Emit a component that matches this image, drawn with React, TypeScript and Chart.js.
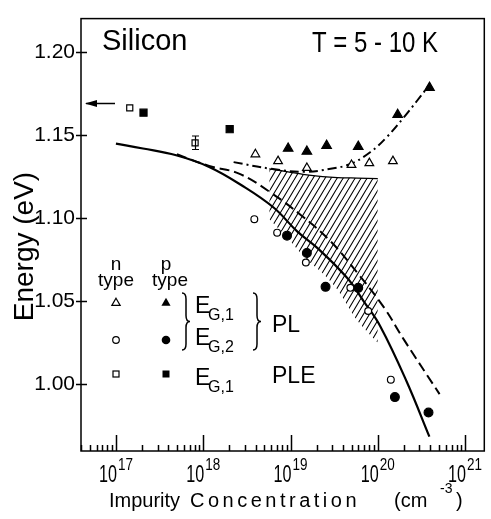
import React, { useEffect, useRef } from 'react';
import { Chart, registerables } from 'chart.js';

Chart.register(...registerables);

// ---- axes ----
const xMin = 3.98e16;
const xMax = 1.66e21;
const yMin = 0.96;
const yMax = 1.22;
const yTicks = [1.0, 1.05, 1.1, 1.15, 1.2];
const xDecades = [17, 18, 19, 20, 21];

// ---- data: n type (open) / p type (filled) ----
const nTriX = [3.96e18, 7.2e18, 1.54e19, 5.0e19, 8.0e19, 1.49e20];
const nTriY = [1.1384, 1.1343, 1.1302, 1.132, 1.1331, 1.1343];
const pTriX = [9.4e18, 1.54e19, 2.59e19, 5.97e19, 1.69e20, 3.91e20];
const pTriY = [1.1419, 1.1401, 1.1436, 1.143, 1.1622, 1.1785];
const nCirX = [3.85e18, 7.03e18, 1.5e19, 4.85e19, 7.76e19, 1.41e20];
const nCirY = [1.0994, 1.0913, 1.0733, 1.0581, 1.0442, 1.0029];
const pCirX = [9.12e18, 1.54e19, 2.52e19, 5.97e19, 1.57e20, 3.81e20];
const pCirY = [1.0895, 1.0791, 1.0587, 1.0581, 0.9924, 0.9831];
const nSqX = [1.44e17, 8.07e17];
const nSqY = [1.1663, 1.1453];
const pSqX = [2.07e17, 2.01e18];
const pSqY = [1.1634, 1.1535];
const errBarX = 8.07e17;
const errBarLow = 1.1413;
const errBarHigh = 1.1494;
const arrowE = 1.1692;

// ---- curves ----
const solidX = [1e17, 2.04e17, 4.9e17, 1.17e18, 2.75e18, 6.4e18, 1.2e19, 2.04e19, 4.47e19, 6.9e19, 1.07e20, 2.14e20, 3.9e20];
const solidY = [1.1448, 1.1419, 1.1378, 1.1308, 1.1198, 1.1064, 1.0919, 1.082, 1.064, 1.05, 1.0349, 1.0018, 0.9686];
const dashX = [5.0e17, 1.17e18, 2.57e18, 6.0e18, 1.32e19, 2.88e19, 5.75e19, 1.17e20, 2.0e20, 5.1e20];
const dashY = [1.1384, 1.1314, 1.1268, 1.1152, 1.1018, 1.0861, 1.0675, 1.0465, 1.0268, 0.9942];
const dotDashX = [2.23e18, 6.01e18, 1.46e19, 2.88e19, 4.85e19, 8.17e19, 1.27e20, 1.98e20, 2.79e20, 3.91e20];
const dotDashY = [1.1337, 1.1297, 1.1279, 1.1297, 1.1326, 1.1396, 1.1488, 1.1605, 1.1703, 1.1802];
const hatchX = [5.71e18, 9.37e18, 1.46e19, 2.33e19, 3.45e19, 5.82e19, 1.0e20];
const hatchTopY = [1.1297, 1.1279, 1.1262, 1.125, 1.1244, 1.1241, 1.1238];
const hatchBottomY = [1.0994, 1.0878, 1.0762, 1.0669, 1.057, 1.0384, 1.025];

const zip = (xs: number[], ys: number[]) => xs.map((x, i) => ({ x, y: ys[i] }));

const FONT = '"Liberation Sans", Arial, sans-serif';

function drawTri(ctx: CanvasRenderingContext2D, cx: number, cy: number, r: number, filled: boolean) {
  ctx.beginPath();
  for (let i = 0; i < 3; i++) {
    const a = -Math.PI / 2 + (i * 2 * Math.PI) / 3;
    const px = cx + r * Math.cos(a);
    const py = cy + r * Math.sin(a);
    if (i === 0) ctx.moveTo(px, py);
    else ctx.lineTo(px, py);
  }
  ctx.closePath();
  if (filled) ctx.fill();
  else ctx.stroke();
}
function drawCir(ctx: CanvasRenderingContext2D, cx: number, cy: number, r: number, filled: boolean) {
  ctx.beginPath();
  ctx.arc(cx, cy, r, 0, Math.PI * 2);
  if (filled) ctx.fill();
  else ctx.stroke();
}
function drawSq(ctx: CanvasRenderingContext2D, cx: number, cy: number, s: number, filled: boolean) {
  if (filled) ctx.fillRect(cx - s / 2, cy - s / 2, s, s);
  else ctx.strokeRect(cx - s / 2, cy - s / 2, s, s);
}
function brace(ctx: CanvasRenderingContext2D, x: number, y0: number, y1: number, w: number) {
  const ym = (y0 + y1) / 2;
  const q = w / 2;
  ctx.beginPath();
  ctx.moveTo(x, y0);
  ctx.quadraticCurveTo(x + q, y0, x + q, y0 + 6);
  ctx.lineTo(x + q, ym - 6);
  ctx.quadraticCurveTo(x + q, ym, x + w, ym);
  ctx.quadraticCurveTo(x + q, ym, x + q, ym + 6);
  ctx.lineTo(x + q, y1 - 6);
  ctx.quadraticCurveTo(x + q, y1, x, y1);
  ctx.stroke();
}
function text(ctx: CanvasRenderingContext2D, s: string, x: number, y: number, size: number, align: CanvasTextAlign = 'left', maxW?: number) {
  ctx.font = `${size}px ${FONT}`;
  ctx.textAlign = align;
  ctx.textBaseline = 'alphabetic';
  if (maxW) ctx.fillText(s, x, y, maxW);
  else ctx.fillText(s, x, y);
}
function subText(ctx: CanvasRenderingContext2D, x: number, y: number, sub: string) {
  text(ctx, 'E', x, y, 23);
  text(ctx, sub, x + 13, y + 7, 16);
}

const decorPlugin = {
  id: 'decor',
  afterDraw(chart: any) {
    const { ctx, chartArea: a, scales } = chart;
    const xs = scales.x;
    const ys = scales.y;
    ctx.save();
    ctx.strokeStyle = '#000';
    ctx.fillStyle = '#000';
    ctx.lineWidth = 1.5;
    ctx.strokeRect(a.left, a.top, a.right - a.left, a.bottom - a.top);

    // x ticks (inside)
    ctx.beginPath();
    for (let d = 16; d <= 21; d++) {
      for (let m = 1; m <= 9; m++) {
        const v = m * Math.pow(10, d);
        if (v < xMin || v > xMax) continue;
        const px = Math.round(xs.getPixelForValue(v)) + 0.5;
        const len = m === 1 ? 16 : 6;
        ctx.moveTo(px, a.bottom);
        ctx.lineTo(px, a.bottom - len);
      }
    }
    ctx.stroke();
    // y ticks
    ctx.beginPath();
    for (const v of yTicks) {
      const py = Math.round(ys.getPixelForValue(v)) + 0.5;
      ctx.moveTo(a.left - 5, py);
      ctx.lineTo(a.left + 6, py);
    }
    ctx.stroke();

    // x tick labels with superscripts
    for (const d of xDecades) {
      const px = xs.getPixelForValue(Math.pow(10, d));
      text(ctx, '10', px + 1, 482, 23, 'right', 18);
      text(ctx, String(d), px + 2, 470, 16, 'left', 15);
    }

    // axis titles
    const c: any = ctx;
    text(ctx, 'Impurity', 109, 507, 20, 'left');
    if ('letterSpacing' in c) c.letterSpacing = '3.5px';
    text(ctx, 'Concentration', 190, 507, 20, 'left');
    if ('letterSpacing' in c) c.letterSpacing = '0px';
    text(ctx, '(cm', 394, 507, 20, 'left');
    text(ctx, '-3', 440, 493, 14, 'left');
    text(ctx, ')', 456, 507, 20, 'left');

    ctx.save();
    ctx.translate(33, 246.5);
    ctx.rotate(-Math.PI / 2);
    text(ctx, 'Energy (eV)', 0, 0, 28, 'center');
    ctx.restore();

    // headings
    text(ctx, 'Silicon', 102, 50, 29, 'left');
    text(ctx, 'T = 5 - 10 K', 312, 52, 29, 'left', 126);

    // arrow
    const ay = Math.round(ys.getPixelForValue(arrowE)) + 0.5;
    ctx.lineWidth = 1.5;
    ctx.beginPath();
    ctx.moveTo(a.left + 5, ay);
    ctx.lineTo(a.left + 34, ay);
    ctx.stroke();
    ctx.beginPath();
    ctx.moveTo(a.left + 4, ay);
    ctx.lineTo(a.left + 16, ay - 3.5);
    ctx.lineTo(a.left + 16, ay + 3.5);
    ctx.closePath();
    ctx.fill();

    // error bar
    const ex = Math.round(xs.getPixelForValue(errBarX)) + 0.5;
    const e1 = ys.getPixelForValue(errBarLow);
    const e2 = ys.getPixelForValue(errBarHigh);
    ctx.lineWidth = 1.2;
    ctx.beginPath();
    ctx.moveTo(ex, e1); ctx.lineTo(ex, e2);
    ctx.moveTo(ex - 3.5, e1); ctx.lineTo(ex + 3.5, e1);
    ctx.moveTo(ex - 3.5, e2); ctx.lineTo(ex + 3.5, e2);
    ctx.stroke();

    // key
    text(ctx, 'n', 116, 270, 19, 'center');
    text(ctx, 'type', 116, 286, 19, 'center');
    text(ctx, 'p', 166, 270, 19, 'center');
    text(ctx, 'type', 170, 286, 19, 'center');
    ctx.lineWidth = 1.2;
    drawTri(ctx, 116, 303, 4.8, false);
    drawTri(ctx, 166, 303, 5.3, true);
    drawCir(ctx, 116, 340, 3.3, false);
    drawCir(ctx, 166, 340, 4.3, true);
    drawSq(ctx, 116, 374, 6, false);
    drawSq(ctx, 166, 374, 7, true);
    ctx.lineWidth = 1.5;
    brace(ctx, 182, 293, 350, 8);
    brace(ctx, 253, 293, 350, 8);
    subText(ctx, 195, 313, 'G,1');
    subText(ctx, 195, 345, 'G,2');
    subText(ctx, 195, 385, 'G,1');
    text(ctx, 'PL', 272, 332, 23, 'left');
    text(ctx, 'PLE', 272, 383, 23, 'left');
    ctx.restore();
  },
};

export default function App() {
  const ref = useRef<HTMLCanvasElement>(null);
  useEffect(() => {
    document.body.style.margin = '0';
    const canvas = ref.current!;
    const pc = document.createElement('canvas');
    pc.width = 6;
    pc.height = 10;
    const g = pc.getContext('2d')!;
    g.strokeStyle = '#000';
    g.lineWidth = 1.1;
    g.beginPath();
    for (const dx of [-6, 0, 6]) {
      g.moveTo(dx, 10);
      g.lineTo(dx + 6, 0);
    }
    g.stroke();
    const pattern = canvas.getContext('2d')!.createPattern(pc, 'repeat');

    const pts = (data: any, style: string, r: number, filled: boolean) => ({
      data,
      showLine: false,
      pointStyle: style,
      pointRadius: r,
      pointBorderWidth: 1.2,
      pointBorderColor: '#000',
      pointBackgroundColor: filled ? '#000' : '#fff',
    });
    const curve = (data: any, dash: number[], width: number) => ({
      data,
      showLine: true,
      borderColor: '#000',
      borderWidth: width,
      borderDash: dash,
      pointRadius: 0,
      tension: 0.4,
      fill: false,
    });

    const chart = new Chart(canvas, {
      type: 'scatter',
      data: {
        datasets: [
          pts(zip(nTriX, nTriY), 'triangle', 5, false),
          pts(zip(pTriX, pTriY), 'triangle', 5.5, true),
          pts(zip(nCirX, nCirY), 'circle', 3.4, false),
          pts(zip(pCirX, pCirY), 'circle', 4.4, true),
          pts(zip(nSqX, nSqY), 'rect', 4.3, false),
          pts(zip(pSqX, pSqY), 'rect', 5, true),
          curve(zip(solidX, solidY), [], 2.2),
          curve(zip(dashX, dashY), [10, 5], 2),
          curve(zip(dotDashX, dotDashY), [9, 4, 2, 4], 2),
          {
            data: zip(hatchX, hatchTopY),
            showLine: true,
            borderColor: '#000',
            borderWidth: 1.3,
            pointRadius: 0,
            tension: 0.3,
            fill: '+1',
            backgroundColor: pattern as any,
          },
          {
            data: zip(hatchX, hatchBottomY),
            showLine: true,
            borderColor: 'rgba(0,0,0,0)',
            borderWidth: 1,
            pointRadius: 0,
            tension: 0.3,
            fill: false,
          },
        ] as any,
      },
      options: {
        responsive: false,
        animation: false,
        devicePixelRatio: 1,
        events: [],
        layout: { padding: { left: 0, top: 5, right: 3, bottom: 0 } },
        plugins: { legend: { display: false }, tooltip: { enabled: false } },
        scales: {
          x: {
            type: 'logarithmic',
            min: xMin,
            max: xMax,
            ticks: { display: false },
            grid: { display: false, drawTicks: false },
            border: { display: false },
            afterFit: (s: any) => { s.height = 68; },
          },
          y: {
            type: 'linear',
            min: yMin,
            max: yMax,
            ticks: {
              color: '#000',
              padding: 6,
              font: { family: FONT, size: 21 },
              callback: (v: any) => Number(v).toFixed(2),
            },
            afterBuildTicks: (s: any) => { s.ticks = yTicks.map((v) => ({ value: v })); },
            grid: { display: false, drawTicks: false },
            border: { display: false },
            afterFit: (s: any) => { s.width = 81; },
          },
        },
      } as any,
      plugins: [decorPlugin],
    });
    return () => chart.destroy();
  }, []);
  return (
    <canvas
      ref={ref}
      width={491}
      height={519}
      style={{ display: 'block', position: 'fixed', left: 0, top: 0, width: 491, height: 519, background: '#fff' }}
    />
  );
}
